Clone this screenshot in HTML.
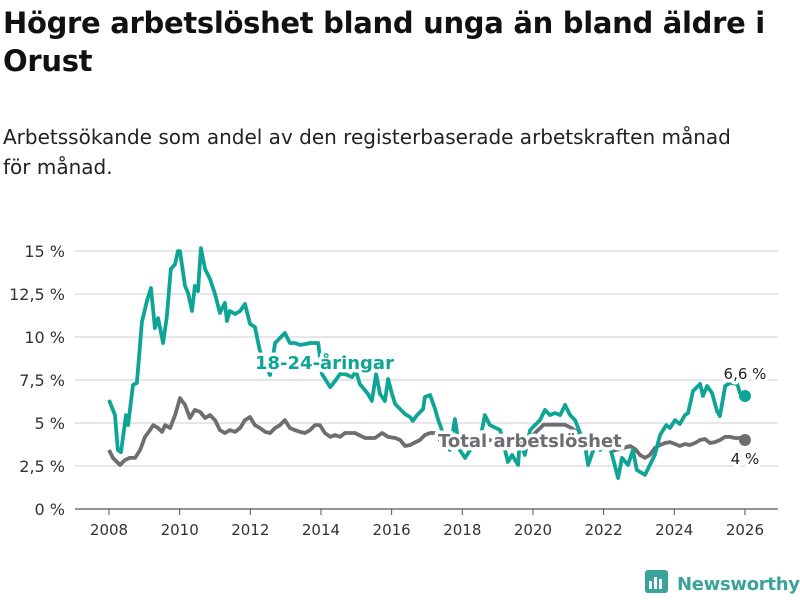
<!DOCTYPE html>
<html><head><meta charset="utf-8"><style>
body{margin:0;width:800px;height:600px;background:#fff;font-family:"Liberation Sans",sans-serif;overflow:hidden;position:relative}
h1{position:absolute;left:3px;top:4px;margin:0;font-size:29px;line-height:38px;font-weight:bold;color:#111;width:795px;font-family:"DejaVu Sans","Liberation Sans",sans-serif;letter-spacing:-0.3px}
.sub{position:absolute;left:3px;top:122px;font-size:20px;line-height:30px;color:#222;font-family:"DejaVu Sans","Liberation Sans",sans-serif;width:790px}
svg{position:absolute;left:0;top:0}
.logo{position:absolute;left:645px;top:570px;font-size:18px;font-weight:bold;color:#3aa39a;font-family:"DejaVu Sans",sans-serif;white-space:nowrap;width:160px;letter-spacing:-0.3px}
</style></head><body>
<h1>Högre arbetslöshet bland unga än bland äldre i Orust</h1>
<div class="sub">Arbetssökande som andel av den registerbaserade arbetskraften månad<br>för månad.</div>
<svg id="c" width="800" height="600"></svg>
<div class="logo"><svg width="24" height="24" style="position:relative;display:inline-block;vertical-align:-4px;margin-right:8px"><rect x="0" y="0" width="23" height="23" rx="3" fill="#3aa39a"/><rect x="4" y="11" width="3" height="8" fill="#fff"/><rect x="9" y="7" width="3" height="12" fill="#fff"/><rect x="14" y="9" width="3" height="10" fill="#fff"/></svg>Newsworthy</div>
<script>
const yTicks=[0,2.5,5,7.5,10,12.5,15];
const yTickLabels=["0 %","2,5 %","5 %","7,5 %","10 %","12,5 %","15 %"];
const xTicks=[2008,2010,2012,2014,2016,2018,2020,2022,2024,2026];
const youthYears=[2008.00,2008.17,2008.25,2008.34,2008.48,2008.54,2008.68,2008.79,2008.93,2009.08,2009.19,2009.30,2009.39,2009.53,2009.64,2009.75,2009.87,2009.95,2010.01,2010.15,2010.24,2010.35,2010.43,2010.52,2010.60,2010.72,2010.86,2011.00,2011.14,2011.28,2011.34,2011.42,2011.57,2011.71,2011.85,2011.99,2012.13,2012.27,2012.56,2012.70,2012.84,2012.98,2013.12,2013.26,2013.41,2013.55,2013.69,2013.92,2014.03,2014.26,2014.40,2014.54,2014.68,2014.88,2014.99,2015.10,2015.33,2015.44,2015.56,2015.67,2015.81,2015.90,2016.01,2016.10,2016.24,2016.38,2016.52,2016.60,2016.72,2016.89,2016.94,2017.09,2017.23,2017.31,2017.51,2017.65,2017.79,2017.93,2018.08,2018.22,2018.50,2018.64,2018.78,2019.07,2019.21,2019.29,2019.41,2019.58,2019.63,2019.77,2019.92,2020.20,2020.34,2020.48,2020.62,2020.77,2020.91,2021.05,2021.19,2021.47,2021.56,2021.76,2021.90,2022.12,2022.24,2022.41,2022.52,2022.69,2022.83,2022.94,2023.17,2023.31,2023.45,2023.60,2023.77,2023.88,2024.02,2024.16,2024.30,2024.39,2024.53,2024.73,2024.81,2024.93,2025.07,2025.21,2025.29,2025.44,2025.58,2025.78,2025.86,2026.00];
const youthValues=[6.34,5.46,3.43,3.31,5.46,4.88,7.21,7.33,10.87,12.15,12.85,10.52,11.10,9.65,11.22,13.95,14.24,14.99,14.99,12.97,12.56,11.51,12.97,12.67,15.17,13.95,13.37,12.50,11.40,11.98,10.93,11.51,11.34,11.51,11.92,10.76,10.58,9.19,7.79,9.65,9.94,10.23,9.65,9.65,9.54,9.59,9.65,9.65,7.85,7.09,7.44,7.85,7.85,7.67,8.02,7.27,6.69,6.28,7.85,6.69,6.28,7.56,6.69,6.10,5.81,5.52,5.35,5.12,5.46,5.81,6.51,6.63,5.81,5.23,4.07,3.43,5.23,3.43,2.97,3.43,4.01,5.46,4.88,4.59,3.43,2.73,3.14,2.56,4.01,3.14,4.59,5.17,5.76,5.46,5.58,5.46,6.05,5.46,5.17,3.72,2.56,3.72,3.43,4.01,3.14,1.80,2.97,2.56,3.43,2.27,1.98,2.56,3.14,4.30,4.88,4.71,5.17,4.94,5.46,5.58,6.86,7.27,6.57,7.15,6.74,5.70,5.40,7.15,7.33,7.27,6.74,6.57];
const totalYears=[2008.00,2008.11,2008.31,2008.45,2008.59,2008.74,2008.88,2009.02,2009.16,2009.25,2009.39,2009.50,2009.59,2009.73,2009.87,2010.01,2010.15,2010.29,2010.43,2010.58,2010.72,2010.86,2011.00,2011.14,2011.28,2011.42,2011.57,2011.71,2011.85,2011.99,2012.13,2012.27,2012.42,2012.56,2012.70,2012.84,2012.98,2013.12,2013.26,2013.41,2013.55,2013.69,2013.83,2013.97,2014.11,2014.26,2014.40,2014.54,2014.68,2014.96,2015.25,2015.53,2015.73,2015.90,2016.10,2016.24,2016.38,2016.52,2016.80,2016.94,2017.09,2017.23,2017.37,2017.70,2018.00,2018.50,2019.00,2019.50,2020.00,2020.30,2020.60,2020.90,2021.10,2021.50,2021.80,2022.10,2022.30,2022.46,2022.75,2022.89,2023.03,2023.17,2023.31,2023.45,2023.60,2023.74,2023.88,2024.02,2024.16,2024.30,2024.44,2024.59,2024.73,2024.87,2025.01,2025.15,2025.29,2025.44,2025.58,2025.72,2025.86,2026.00];
const totalValues=[3.43,2.97,2.56,2.85,2.97,2.97,3.43,4.19,4.59,4.88,4.71,4.48,4.88,4.71,5.46,6.45,6.05,5.29,5.76,5.64,5.29,5.46,5.17,4.59,4.42,4.59,4.48,4.71,5.17,5.35,4.88,4.71,4.48,4.42,4.71,4.88,5.17,4.71,4.59,4.48,4.42,4.59,4.88,4.88,4.42,4.19,4.30,4.19,4.42,4.42,4.13,4.13,4.42,4.19,4.13,4.01,3.66,3.72,4.01,4.30,4.42,4.42,4.01,4.1,3.9,4.0,4.0,3.9,4.3,4.9,4.9,4.9,4.7,4.1,3.7,3.6,3.4,3.49,3.66,3.49,3.14,2.97,3.14,3.55,3.72,3.84,3.89,3.78,3.66,3.78,3.72,3.84,4.01,4.07,3.84,3.89,4.01,4.19,4.19,4.13,4.13,4.01];
const NS="http://www.w3.org/2000/svg";
const svg=document.getElementById('c');
const X=y=>109+(y-2008)*35.33;
const Y=v=>509-v*17.2;
function mk(t,a,p){const e=document.createElementNS(NS,t);for(const k in a)e.setAttribute(k,a[k]);(p||svg).appendChild(e);return e;}
yTicks.forEach((t,i)=>{
 const l=mk('line',{x1:75,x2:778,y1:Y(t),y2:Y(t),stroke:t===0?'#555':'#ddd','stroke-width':t===0?1.2:1.5});
 
 
 const tx=mk('text',{x:65,y:Y(t)+6,'text-anchor':'end','font-size':16,fill:'#333','font-family':'DejaVu Sans,sans-serif'});
 tx.textContent=yTickLabels[i];
 
 
});
xTicks.forEach(t=>{
 const l=mk('line',{x1:X(t),x2:X(t),y1:509,y2:515,stroke:'#555'});
 
 
 const tx=mk('text',{x:X(t),y:535,'text-anchor':'middle','font-size':15,fill:'#333','font-family':'DejaVu Sans,sans-serif'});
 tx.textContent=t;
 
 
});
function line(xs,vs,col,name){
 const d=xs.map((x,i)=>(i?'L':'M')+X(x).toFixed(1)+','+Y(vs[i]).toFixed(1)).join('');
 const p=mk('path',{d:d,fill:'none',stroke:col,'stroke-width':3.8,'stroke-linejoin':'round'});
 
 
 const n=xs.length-1;
 const c=mk('circle',{cx:X(xs[n]),cy:Y(vs[n]),r:6,fill:col});
 
 
}
line(totalYears,totalValues,'#6d6d72','total-line');
line(youthYears,youthValues,'#0fa596','youth-line');
function lab(x,y,txt,col,size,w,anchor,name){
 const t=mk('text',{x:x,y:y,'font-size':size,'font-weight':w,fill:col,stroke:'#fff','stroke-width':7,'paint-order':'stroke','stroke-linejoin':'round','text-anchor':anchor,'font-family':'DejaVu Sans,sans-serif'});
 t.textContent=txt;
 
 
}
lab(255,369,'18-24-åringar','#0fa596',18,'bold','start','youth-series-label');
lab(438,447,'Total arbetslöshet','#6d6d72',18,'bold','start','total-series-label');
lab(745,379,'6,6 %','#222',15,'normal','middle','youth-end-value');
lab(745,464,'4 %','#222',15,'normal','middle','total-end-value');
</script>
</body></html>
